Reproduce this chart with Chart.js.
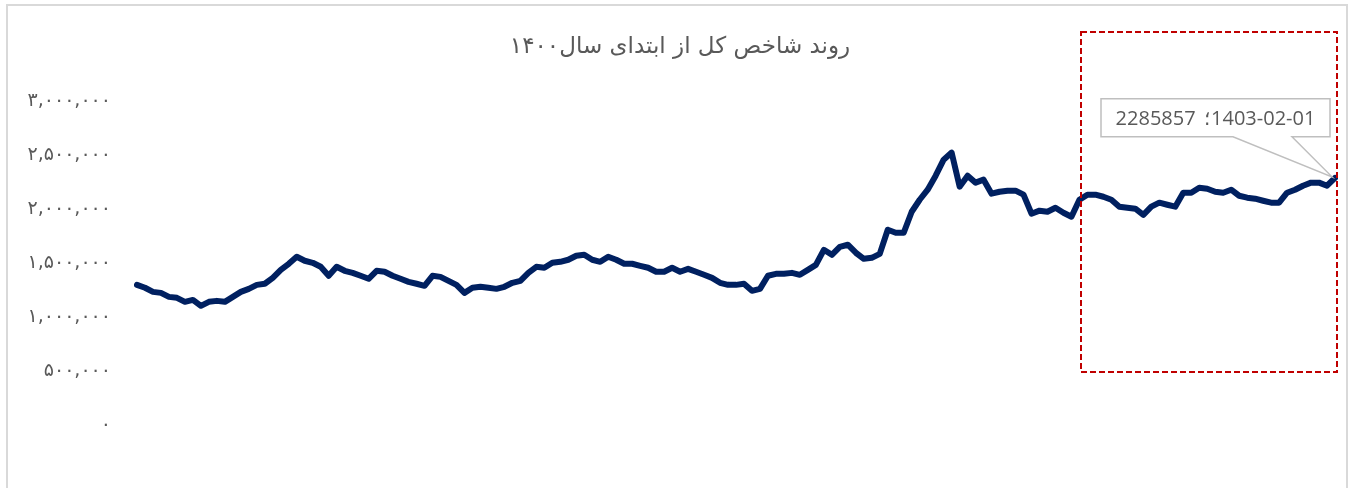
<!DOCTYPE html>
<html>
<head>
<meta charset="utf-8">
<script src="https://cdn.jsdelivr.net/npm/chart.js@4.4.1/dist/chart.umd.min.js"></script>
<style>
  body { margin: 0; background: #fff; }
  #wrap { position: relative; width: 1354px; height: 488px; overflow: hidden; }
  #frame { position: absolute; left: 6px; top: 4px; width: 1342px; height: 540px; border: 2px solid #d9d9d9; box-sizing: border-box; }
  canvas { position: absolute; left: 0; top: 0; }
</style>
</head>
<body>
<div id="wrap">
  <div id="frame"></div>
  <canvas id="IndexChart" width="1354" height="488"></canvas>
</div>
<script>
const chartTitle = "روند شاخص کل از ابتدای سال۱۴۰۰";
const yTickLabels = ["۰", "۵۰۰,۰۰۰", "۱,۰۰۰,۰۰۰", "۱,۵۰۰,۰۰۰", "۲,۰۰۰,۰۰۰", "۲,۵۰۰,۰۰۰", "۳,۰۰۰,۰۰۰"];
const lastDate = "1403-02-01";

// شاخص کل، از ابتدای ۱۴۰۰ تا ۱۴۰۳-۰۲-۰۱
const indexValues = [
  1296000, 1269000, 1231000, 1222000, 1185000, 1176000, 1139000, 1157000, 1102000, 1139000,
  1148000, 1139000, 1185000, 1231000, 1259000, 1296000, 1306000, 1361000, 1435000, 1491000,
  1556000, 1519000, 1500000, 1463000, 1380000, 1463000, 1426000, 1407000, 1380000, 1352000,
  1426000, 1417000, 1380000, 1352000, 1324000, 1306000, 1287000, 1380000, 1370000, 1333000,
  1296000, 1222000, 1269000, 1278000, 1269000, 1259000, 1278000, 1315000, 1333000, 1407000,
  1463000, 1454000, 1500000, 1509000, 1528000, 1565000, 1574000, 1528000, 1509000, 1556000,
  1528000, 1491000, 1491000, 1472000, 1454000, 1417000, 1417000, 1454000, 1417000, 1444000,
  1417000, 1389000, 1361000, 1315000, 1296000, 1296000, 1306000, 1241000, 1259000, 1380000,
  1398000, 1398000, 1407000, 1389000, 1435000, 1481000, 1620000, 1574000, 1648000, 1667000,
  1593000, 1537000, 1546000, 1583000, 1806000, 1778000, 1778000, 1972000, 2083000, 2176000,
  2306000, 2454000, 2519000, 2204000, 2306000, 2241000, 2269000, 2139000, 2157000, 2167000,
  2167000, 2130000, 1954000, 1982000, 1972000, 2009000, 1963000, 1926000, 2083000, 2130000,
  2130000, 2111000, 2083000, 2019000, 2009000, 2000000, 1944000, 2019000, 2056000, 2037000,
  2019000, 2148000, 2148000, 2194000, 2185000, 2157000, 2148000, 2176000, 2120000, 2102000,
  2093000, 2074000, 2056000, 2056000, 2148000, 2176000, 2213000, 2241000, 2241000, 2213000,
  2285857
];
const days = indexValues.map(function (v, i) { return i; });

const highlightBox = {
  id: "highlightBox",
  afterDraw: function (chart) {
    const ctx = chart.ctx;
    ctx.save();
    ctx.strokeStyle = "#c00000";
    ctx.lineWidth = 2;
    ctx.setLineDash([6, 3]);
    ctx.strokeRect(1081, 32, 256, 340);
    ctx.restore();
  },
};

const callout = {
  id: "callout",
  afterDatasetsDraw: function (chart) {
    const meta = chart.getDatasetMeta(0);
    const pt = meta.data[meta.data.length - 1];
    const ctx = chart.ctx;
    const px = pt.x, py = pt.y;
    const left = px - 234, right = px - 5, top = py - 79, bottom = py - 41;
    ctx.save();
    ctx.beginPath();
    ctx.moveTo(left, top);
    ctx.lineTo(right, top);
    ctx.lineTo(right, bottom);
    ctx.lineTo(px - 43, bottom);
    ctx.lineTo(px - 3, py - 1);
    ctx.lineTo(px - 102, bottom);
    ctx.lineTo(left, bottom);
    ctx.closePath();
    ctx.fillStyle = "#ffffff";
    ctx.fill();
    ctx.strokeStyle = "#bfbfbf";
    ctx.lineWidth = 1.5;
    ctx.stroke();

    // number, then the Arabic semicolon tucked against the date
    ctx.fillStyle = "#595959";
    ctx.font = '20px "Open Sans"';
    ctx.textAlign = "left";
    ctx.textBaseline = "middle";
    const numText = String(indexValues[indexValues.length - 1]) + "  ";
    const numW = ctx.measureText(numText).width;
    const semi = ctx.measureText("؛");
    const semiW = semi.actualBoundingBoxLeft + semi.actualBoundingBoxRight + 2;
    const dateW = ctx.measureText(lastDate).width;
    const total = numW + semiW + dateW;
    let x = (left + right) / 2 - total / 2;
    const y = (top + bottom) / 2 + 1;
    ctx.fillText(numText, x, y);
    x += numW;
    ctx.fillText("؛", x + semi.actualBoundingBoxLeft, y);
    x += semiW;
    ctx.fillText(lastDate, x, y);
    ctx.restore();
  },
};

const ctx = document.getElementById("IndexChart");
new Chart(ctx, {
  type: "line",
  data: {
    labels: days,
    datasets: [
      {
        label: "شاخص کل",
        data: indexValues,
        borderColor: "#002060",
        borderWidth: 6,
        borderJoinStyle: "round",
        borderCapStyle: "round",
        pointRadius: 0,
        tension: 0,
        fill: false,
      },
    ],
  },
  options: {
    responsive: false,
    animation: false,
    layout: { padding: { left: 25, right: 19, top: 0, bottom: 63 } },
    plugins: {
      legend: { display: false },
      tooltip: { enabled: false },
      title: {
        display: true,
        text: chartTitle,
        color: "#595959",
        font: { family: "DejaVu Sans", size: 23, weight: "normal" },
        padding: { top: 33, bottom: 40 },
      },
    },
    scales: {
      x: { display: false },
      y: {
        min: 0,
        max: 3000000,
        afterFit: function (scale) { scale.width = 112; },
        grid: { display: false, drawTicks: false },
        border: { display: false },
        ticks: {
          stepSize: 500000,
          padding: 26,
          color: "#595959",
          font: { family: "DejaVu Sans", size: 19 },
          callback: function (value, index) { return yTickLabels[index]; },
        },
      },
    },
  },
  plugins: [highlightBox, callout],
});
</script>
</body>
</html>
